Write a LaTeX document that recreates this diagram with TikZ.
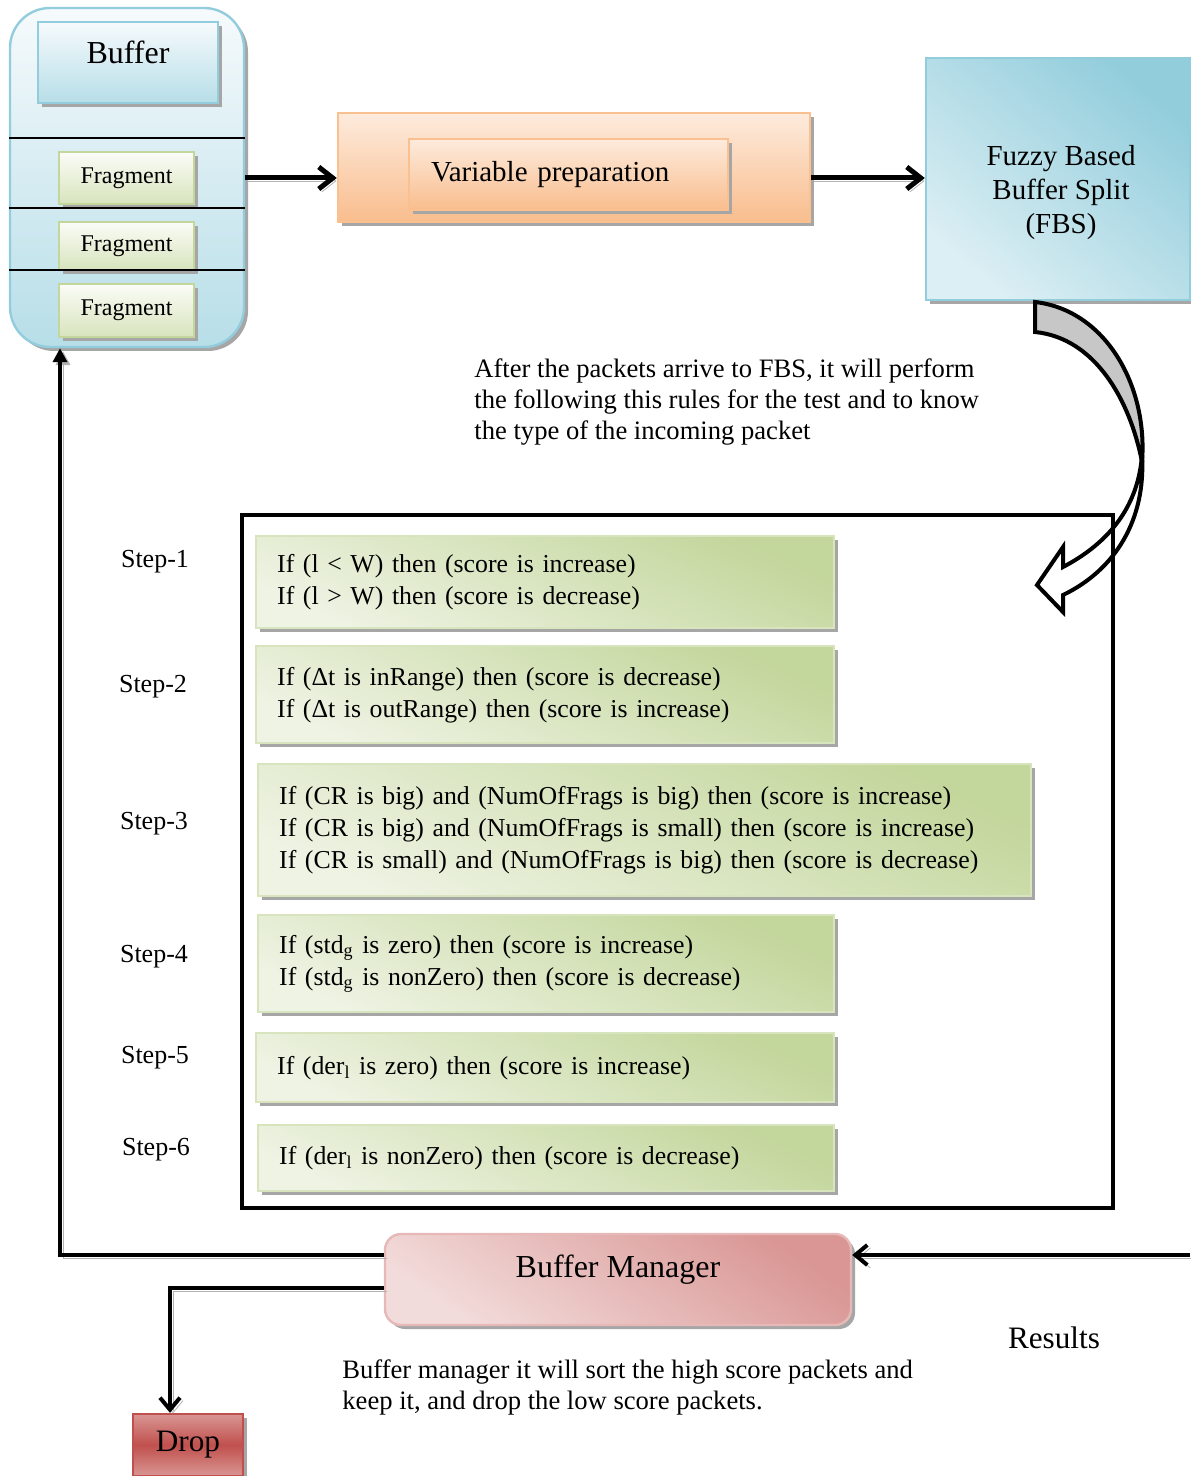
\documentclass[tikz,border=0pt]{standalone}
\usepackage{fontspec}
\setmainfont{Liberation Serif}
\usetikzlibrary{arrows.meta,shadows}

\definecolor{bufline}{HTML}{93CDDD}
\definecolor{buflight}{HTML}{F6FAFC}
\definecolor{bufdark}{HTML}{B7DEE8}
\definecolor{fragline}{HTML}{C3D69B}
\definecolor{fraglight}{HTML}{FBFCF7}
\definecolor{fragdark}{HTML}{D7E4BD}
\definecolor{ruledark}{HTML}{C3D69B}
\definecolor{rulelight}{HTML}{EEF3E3}
\definecolor{orline}{HTML}{FAC090}
\definecolor{orlight}{HTML}{FDEBDD}
\definecolor{ordark}{HTML}{F9BD8D}
\definecolor{fbsdark}{HTML}{92CDDC}
\definecolor{fbslight}{HTML}{DCEFF4}
\definecolor{pinkline}{HTML}{E6B9B8}
\definecolor{pinkdark}{HTML}{D99694}
\definecolor{pinklight}{HTML}{F2DCDB}
\definecolor{dropdark}{HTML}{C0504D}
\definecolor{droplight}{HTML}{D99694}

\begin{document}
\begin{tikzpicture}[x=0.5pt,y=-0.5pt,
    shadowed/.style={drop shadow={shadow xshift=2pt,shadow yshift=-2pt,fill=black!35,opacity=1}},
    lineshadow/.style={preaction={draw=black!30,transform canvas={shift={(1.5pt,-1.5pt)}}}},
    bufferbox/.style={draw=bufline,line width=1.2pt,rounded corners=20pt,top color=buflight,bottom color=bufdark,shadowed},
    titlebox/.style={draw=bufline,line width=1.2pt,top color=buflight,bottom color=bufdark,shadowed},
    fragbox/.style={draw=fragline,line width=1.2pt,top color=fraglight,bottom color=fragdark,shadowed,minimum width=67.5pt,font=\fontsize{12}{14}\selectfont},
    orbox/.style={draw=orline,line width=1.2pt,top color=orlight,bottom color=ordark,shadowed},
    fbsbox/.style={draw=fbsdark,line width=1.2pt,top color=fbsdark,bottom color=fbslight,shading angle=-40,shadowed},
    rulebox/.style={draw=fragdark,line width=1.2pt,anchor=north west,align=left,inner xsep=10.5pt,top color=ruledark,bottom color=rulelight,shading angle=-25,shadowed,font=\fontsize{12.9}{16}\selectfont},
    managerbox/.style={draw=pinkline,line width=1.2pt,rounded corners=8pt,top color=pinkdark,bottom color=pinklight,shading angle=-35,shadowed},
    dropbox/.style={draw=dropdark,line width=1.2pt,top color=droplight,bottom color=droplight,middle color=dropdark,shadowed,font=\fontsize{15.6}{18}\selectfont},
    steplabel/.style={font=\fontsize{13}{15}\selectfont},
    note/.style={anchor=west,align=left,inner sep=0pt,font=\fontsize{13.3}{15.5}\selectfont},
    flow/.style={line width=2.5pt,lineshadow,arrows={-{Straight Barb[length=7pt,width=11pt]}}},
    backflow/.style={line width=2pt,lineshadow,arrows={-{Straight Barb[length=6pt,width=10pt]}}},
    curvearrow/.style={draw=black,line width=2pt,line join=miter}]
    \useasboundingbox (0,0) rectangle (1190,1476);

    % buffer with its fragments
    \node[bufferbox,minimum width=117pt,minimum height=169.5pt] (buf) at (127,177.5) {};
    \node[titlebox,minimum width=90pt,minimum height=40.5pt] (buftitle) at (128,62.5) {};
    \node[font=\fontsize{16}{19}\selectfont] (buflabel) at (128,52) {Buffer};
    \node[fragbox,minimum height=26pt] (frag1) at (126.5,178) {Fragment};
    \node[fragbox,minimum height=24pt] (frag2) at (126.5,246) {Fragment};
    \node[fragbox,minimum height=26.5pt] (frag3) at (126.5,310.5) {Fragment};
    \draw[line width=1pt] (buf.west |- 0,138) -- (buf.east |- 0,138);
    \draw[line width=1pt] (buf.west |- 0,208) -- (buf.east |- 0,208);
    \draw[line width=1pt] (buf.west |- 0,270) -- (buf.east |- 0,270);

    % variable preparation and FBS
    \node[orbox,minimum width=236pt,minimum height=54.5pt] (varprep) at (574,167.5) {};
    \node[orbox,minimum width=159.5pt,minimum height=35.5pt,align=left,inner xsep=11pt,text width=137.5pt,font=\fontsize{14.5}{17}\selectfont] (varinner) at (568.5,174.5) {Variable preparation};
    \node[fbsbox,minimum width=132pt,minimum height=121pt] (fbs) at (1058,179) {};
    \node[align=center,font=\fontsize{14.5}{17}\selectfont] (fbslabel) at (1061,193) {Fuzzy Based\\Buffer Split\\(FBS)};
    \draw[flow] (frag1 -| buf.east) -- (frag1 -| varprep.west);
    \draw[flow] (frag1 -| varprep.east) -- (frag1 -| fbs.west);

    % curved block arrow
    \draw[curvearrow,fill=black!22] (1035,302) .. controls (1105,310) and (1148,385) .. (1142,462)
        .. controls (1130,400) and (1095,338) .. (1035,332) -- cycle;
    \draw[curvearrow,fill=white] (1142,455) .. controls (1146,520) and (1115,570) .. (1063,595)
        -- (1063,612) -- (1037,585) -- (1063,547) -- (1063,567)
        .. controls (1105,545) and (1138,510) .. (1142,455) -- cycle;

    \node[note] (fbsnote) at (474,402) {After the packets arrive to FBS, it will perform\\the following this rules for the test and to know\\the type of the incoming packet};

    % rules
    \node[draw,line width=2pt,minimum width=435.5pt,minimum height=346.5pt] (rules) at (677.5,861.5) {};
    \node[steplabel] (s1) at (155,562) {Step-1};
    \node[steplabel] (s2) at (153,687) {Step-2};
    \node[steplabel] (s3) at (154,824) {Step-3};
    \node[steplabel] (s4) at (154,957) {Step-4};
    \node[steplabel] (s5) at (155,1058) {Step-5};
    \node[steplabel] (s6) at (156,1150) {Step-6};
    \node[rulebox,text width=268pt,minimum height=46pt] (r1) at (255,535) {If (l < W) then (score is increase)\\If (l > W) then (score is decrease)};
    \node[rulebox,text width=268pt,minimum height=48.5pt] (r2) at (255,645) {If (Δt is inRange) then (score is decrease)\\If (Δt is outRange) then (score is increase)};
    \node[rulebox,text width=365.5pt,minimum height=66pt] (r3) at (257,763) {If (CR is big) and (NumOfFrags is big) then (score is increase)\\If (CR is big) and (NumOfFrags is small) then (score is increase)\\If (CR is small) and (NumOfFrags is big) then (score is decrease)};
    \node[rulebox,text width=267pt,minimum height=48.5pt] (r4) at (257,914) {If (std\textsubscript{g} is zero) then (score is increase)\\If (std\textsubscript{g} is nonZero) then (score is decrease)};
    \node[rulebox,text width=268pt,minimum height=34.5pt] (r5) at (255,1032) {If (der\textsubscript{l} is zero) then (score is increase)};
    \node[rulebox,text width=267pt,minimum height=33pt] (r6) at (257,1124) {If (der\textsubscript{l} is nonZero) then (score is decrease)};

    % buffer manager and drop
    \node[managerbox,minimum width=233pt,minimum height=45.5pt] (bm) at (618,1279.5) {};
    \node[font=\fontsize{16}{19}\selectfont] (bmlabel) at (618,1270) {Buffer Manager};
    \node[dropbox,minimum width=55pt,minimum height=31pt] (drop) at (188,1445) {Drop};
    \node[font=\fontsize{15.6}{18}\selectfont] (results) at (1054,1338) {Results};
    \node[note] (bmnote) at (342,1387) {Buffer manager it will sort the high score packets and\\keep it, and drop the low score packets.};
    \coordinate (resin) at (1190,1255);
    \draw[backflow] (resin) -- (resin -| bm.east);
    \draw[line width=2pt,lineshadow,arrows={-{Triangle[length=7pt,width=7pt]}}] (resin -| bm.west) -| ([xshift=-33.5pt]buf.south);
    \draw[backflow] ([yshift=-4.25pt]bm.west) -| ([xshift=-9pt]drop.north);
\end{tikzpicture}
\end{document}
